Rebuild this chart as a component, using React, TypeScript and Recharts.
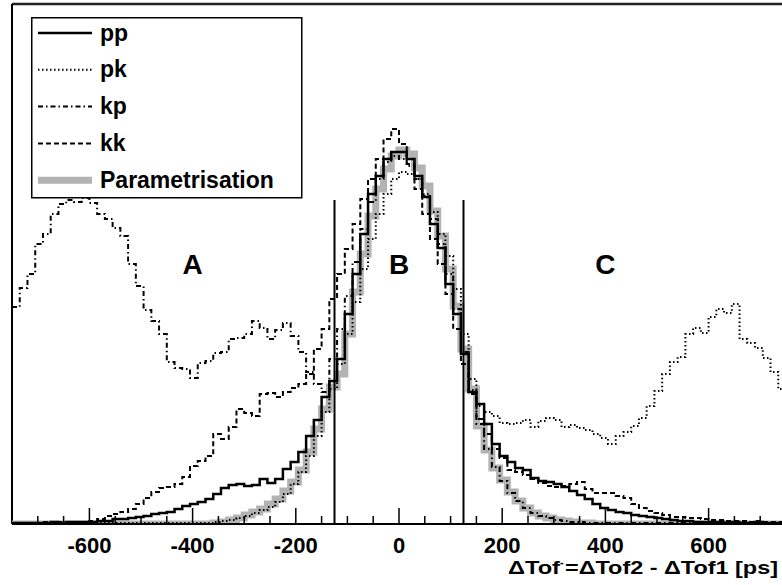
import React from 'react';
import { LineChart, Line, XAxis, YAxis, ReferenceLine, ReferenceDot, Legend } from 'recharts';

const BIN_START = -750;
const BIN_WIDTH = 15;
const X_MIN = -750;
const X_MAX = 750;
const Y_MAX = 520;

const PP = [
  1, 1, 1, 1, 1, 2, 1, 2, 2, 2,
  2, 3, 3, 5, 5, 6, 7, 8, 10, 11,
  12, 15, 18, 20, 22, 25, 30, 36, 39, 40,
  38, 39, 45, 41, 45, 55, 62, 72, 88, 104,
  127, 143, 165, 210, 250, 290, 330, 348, 365, 372,
  372, 365, 348, 327, 300, 276, 240, 210, 170, 132,
  120, 100, 80, 68, 62, 56, 54, 46, 43, 42,
  40, 37, 33, 29, 25, 20, 16, 14, 12, 11,
  9, 8, 7, 6, 5, 4, 3, 3, 2, 2,
  2, 2, 1, 2, 1, 1, 2, 1, 1, 1,
];

const PK = [
  1, 1, 1, 1, 1, 1, 1, 1, 1, 1,
  1, 1, 1, 1, 1, 1, 1, 1, 1, 1,
  1, 1, 1, 1, 1, 1, 2, 3, 4, 6,
  8, 11, 14, 17, 22, 30, 40, 52, 68, 88,
  112, 135, 160, 190, 222, 255, 285, 310, 330, 345,
  352, 350, 345, 330, 312, 290, 268, 235, 190, 145,
  118, 112, 108, 101, 100, 101, 104, 97, 103, 106,
  104, 97, 99, 96, 94, 90, 86, 80, 88, 92,
  98, 106, 118, 133, 150, 162, 167, 190, 196, 191,
  207, 215, 211, 220, 185, 181, 176, 166, 152, 135,
];

const KP = [
  217, 236, 250, 280, 290, 310, 320, 324, 322, 326,
  321, 310, 305, 296, 288, 260, 238, 214, 203, 190,
  162, 156, 155, 146, 161, 163, 171, 172, 185, 186,
  190, 203, 196, 185, 194, 201, 188, 172, 152, 140,
  132, 165, 195, 228, 262, 295, 322, 345, 362, 368,
  365, 358, 345, 328, 305, 280, 250, 215, 172, 134,
  100, 75, 57, 43, 31, 23, 16, 11, 8, 6,
  4, 3, 2, 2, 1, 1, 1, 1, 1, 1,
  1, 1, 1, 1, 1, 1, 1, 1, 1, 1,
  1, 1, 1, 1, 1, 1, 1, 1, 1, 1,
];

const KK = [
  1, 1, 1, 1, 2, 1, 2, 2, 2, 2,
  3, 5, 8, 10, 12, 15, 20, 26, 32, 36,
  37, 40, 47, 58, 63, 68, 90, 85, 97, 115,
  111, 108, 130, 131, 127, 132, 136, 140, 150, 175,
  195, 225, 250, 275, 300, 325, 345, 365, 385, 395,
  380, 360, 335, 310, 285, 260, 230, 195, 160, 130,
  105, 90, 75, 66, 54, 52, 49, 45, 41, 38,
  37, 38, 40, 42, 35, 31, 31, 31, 28, 26,
  20, 16, 13, 11, 9, 7, 7, 6, 6, 5,
  4, 4, 3, 3, 3, 2, 3, 2, 2, 2,
];

const PARAM = [
  0, 0, 0, 0, 0, 0, 0, 0, 0, 0,
  0, 0, 0, 0, 0, 0, 0, 0, 0, 0,
  0, 0, 0, 0, 0, 0, 1, 2, 4, 6,
  9, 12, 15, 20, 25, 33, 42, 54, 72, 95,
  115, 137, 150, 190, 232, 270, 308, 335, 355, 368,
  374, 370, 356, 338, 313, 288, 255, 218, 175, 135,
  98, 74, 56, 44, 32, 23, 16, 11, 8, 6,
  4, 3, 2, 1, 1, 0, 0, 0, 0, 0,
  0, 0, 0, 0, 0, 0, 0, 0, 0, 0,
  0, 0, 0, 0, 0, 0, 0, 0, 0, 0,
];

const X_TICKS = [
  -700, -650, -600, -550, -500, -450, -400, -350, -300, -250, -200, -150, -100, -50,
  0, 50, 100, 150, 200, 250, 300, 350, 400, 450, 500, 550, 600, 650, 700, 750,
];
const X_LABELS = [-600, -400, -200, 0, 200, 400, 600];
const MAJOR_STEP = 200;

const REGION_LABELS = ['A', 'B', 'C'];
const REGION_X = [-400, 0, 400];
const REGION_Y = 260;

const CUT_X = [-125, 125];
const CUT_HEIGHT = 324;

type Series = { key: string; name: string; color: string; width: number; dash?: string };
const SERIES: Series[] = [
  { key: 'pp', name: 'pp', color: '#000000', width: 2.5 },
  { key: 'pk', name: 'pk', color: '#000000', width: 2, dash: '1.5 2.5' },
  { key: 'kp', name: 'kp', color: '#000000', width: 2, dash: '5 3 1.5 3' },
  { key: 'kk', name: 'kk', color: '#000000', width: 2, dash: '5 3' },
  { key: 'param', name: 'Parametrisation', color: '#b3b3b3', width: 7 },
];
const DRAW_ORDER = ['param', 'kk', 'kp', 'pk', 'pp'];

const SOURCE: Record<string, number[]> = { pp: PP, pk: PK, kp: KP, kk: KK, param: PARAM };

const data = PP.map((_, i) => {
  const row: Record<string, number> = { x: BIN_START + i * BIN_WIDTH };
  Object.keys(SOURCE).forEach((k) => (row[k] = SOURCE[k][i]));
  return row;
});
{
  const last: Record<string, number> = { x: X_MAX };
  Object.keys(SOURCE).forEach((k) => (last[k] = SOURCE[k][SOURCE[k].length - 1]));
  data.push(last);
}

const FONT = '"Liberation Sans", Arial, Helvetica, sans-serif';
const CHART_W = 800;
const CHART_H = 585;
const PLOT_LEFT = 12;
const PLOT_TOP = 4;
const PLOT_BOTTOM = 524;
const PLOT_RIGHT = 786;

const Tick = (props: any) => {
  const { x, payload } = props;
  const v = payload.value as number;
  const major = v % MAJOR_STEP === 0;
  return (
    <g>
      <line x1={x} x2={x} y1={PLOT_BOTTOM} y2={PLOT_BOTTOM - (major ? 16 : 8)} stroke="#000" strokeWidth={1.5} />
      {X_LABELS.includes(v) && (
        <text x={x} y={PLOT_BOTTOM + 29} textAnchor="middle" fontFamily={FONT} fontWeight="bold" fontSize={22} fill="#000">
          {v}
        </text>
      )}
    </g>
  );
};

const AxisTitle = () => (
  <g fontFamily={FONT} fontWeight="bold" fill="#000">
    <text x={508} y={574} fontSize={19} textLength={52} lengthAdjust="spacingAndGlyphs">ΔTof</text>
    <text x={560} y={566} fontSize={11}>-</text>
    <text x={565} y={574} fontSize={19} textLength={213} lengthAdjust="spacingAndGlyphs">=ΔTof2 - ΔTof1 [ps]</text>
  </g>
);

const LegendBox = () => {
  const order = SERIES;
  return (
    <svg width={272} height={182} style={{ display: 'block' }}>
      <rect x={0.75} y={0.75} width={270} height={180} fill="#fff" stroke="#000" strokeWidth={1.5} />
      {order.map((s, i) => {
        const cy = 16 + i * 36.8;
        return (
          <g key={s.key}>
            <line x1={7} x2={61} y1={cy} y2={cy} stroke={s.color} strokeWidth={s.key === 'param' ? 7 : s.width} strokeDasharray={s.dash} />
            <text x={69} y={cy + 7.5} fontFamily={FONT} fontWeight="bold" fontSize={23} fill="#000">
              {s.name}
            </text>
          </g>
        );
      })}
    </svg>
  );
};

const RegionLabel = (text: string) => (props: any) => {
  const vb = props.viewBox || {};
  const cx = (vb.x ?? 0) + (vb.width ?? 0) / 2;
  const cy = (vb.y ?? 0) + (vb.height ?? 0) / 2;
  return (
    <text x={cx} y={cy + 10} textAnchor="middle" fontFamily={FONT} fontWeight="bold" fontSize={28} fill="#000">
      {text}
    </text>
  );
};

export default function App() {
  return (
    <div style={{ position: 'absolute', left: 0, top: 0, width: 782, height: 585, overflow: 'hidden', background: '#fff' }}>
      <LineChart
        width={CHART_W}
        height={CHART_H}
        data={data}
        margin={{ top: PLOT_TOP, right: CHART_W - PLOT_RIGHT, bottom: 0, left: PLOT_LEFT }}
      >
        <XAxis
          dataKey="x"
          type="number"
          domain={[X_MIN, X_MAX]}
          ticks={X_TICKS}
          interval={0}
          tick={<Tick />}
          tickLine={false}
          axisLine={{ stroke: '#000', strokeWidth: 2 }}
          height={CHART_H - PLOT_BOTTOM}
          allowDataOverflow
          label={<AxisTitle />}
        />
        <YAxis hide domain={[0, Y_MAX]} allowDataOverflow />
        <ReferenceLine y={Y_MAX} stroke="#222" strokeWidth={2.5} />
        <ReferenceLine x={X_MIN} stroke="#000" strokeWidth={2} />
        {DRAW_ORDER.map((k) => {
          const s = SERIES.find((q) => q.key === k)!;
          return (
            <Line
              key={k}
              type="stepAfter"
              dataKey={k}
              name={s.name}
              stroke={s.color}
              strokeWidth={s.width}
              strokeDasharray={s.dash}
              dot={false}
              activeDot={false}
              isAnimationActive={false}
            />
          );
        })}
        {CUT_X.map((cx) => (
          <ReferenceLine
            key={cx}
            segment={[{ x: cx, y: 0 }, { x: cx, y: CUT_HEIGHT }]}
            stroke="#000"
            strokeWidth={2}
          />
        ))}
        {REGION_LABELS.map((t, i) => (
          <ReferenceDot key={t} x={REGION_X[i]} y={REGION_Y} r={0} fill="none" stroke="none" label={RegionLabel(t)} />
        ))}
        <Legend
          layout="vertical"
          align="center"
          verticalAlign="middle"
          wrapperStyle={{ left: 31, top: 17, width: 272, height: 182 }}
          content={() => <LegendBox />}
        />
      </LineChart>
    </div>
  );
}
